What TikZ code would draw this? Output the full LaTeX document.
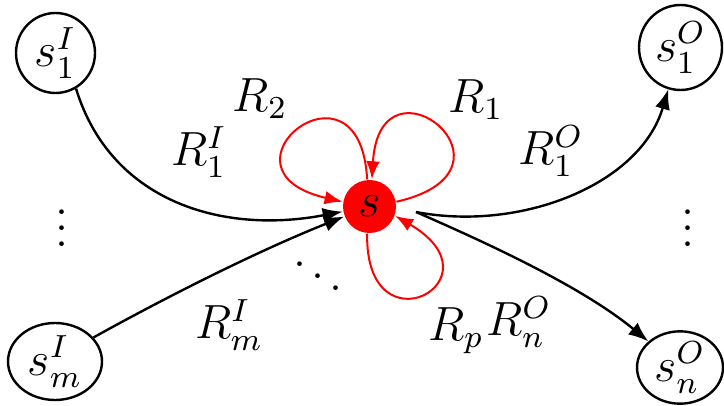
\documentclass[tikz,border=0pt,12pt]{standalone}
\usetikzlibrary{arrows.meta,shapes.geometric}
\begin{document}
\begin{tikzpicture}[x=0.25pt,y=-0.25pt,
  st/.style={draw,ellipse,inner sep=0pt,line width=0.6pt},
  edge/.style={line width=0.6pt,-{Latex[length=5pt,width=3.8pt]}},
  redloop/.style={red,line width=0.5pt,-{Latex[length=4.5pt,width=3.4pt]}},
  lab/.style={inner sep=0pt}]
\useasboundingbox (0,0) rectangle (724,405);
\node[st,minimum width=19.75pt,minimum height=20pt] (s1I) at (55.5,53) {$s_1^I$};
\node[st,minimum width=23.5pt,minimum height=19.25pt] (smI) at (55,361.5) {$s_m^I$};
\node[st,minimum width=20.75pt,minimum height=21.25pt] (s1O) at (680.5,47.5) {$s_1^O$};
\node[st,minimum width=21.5pt,minimum height=17.75pt] (snO) at (680,367.5) {$s_n^O$};
\node[circle,fill=red,inner sep=0pt,minimum size=13.25pt] (s) at (369.5,206.5) {$s$};
\coordinate (sout) at (416,212);
% incoming
\draw[edge] (s1I.-60) .. controls (110,200) and (220,235) .. (s);
\draw[edge] (smI.32) .. controls (170,295) and (260,250) .. (s);
% outgoing
\draw[edge] (sout) .. controls (520,232) and (640,185) .. (s1O);
\draw[edge] (sout) .. controls (480,240) and (580,285) .. (snO);
% loops
\draw[redloop] (s.95) .. controls (360,45) and (205,170) .. (s.170);
\draw[redloop] (s.10) .. controls (535,170) and (380,45) .. (s.85);
\draw[redloop] (s.-95) .. controls (365,355) and (505,280) .. (s.-20);
% labels
\node[lab] (l2) at (260,99) {$R_2$};
\node[lab] (l1) at (476,100) {$R_1$};
\node[lab] (l1I) at (199,152) {$R_1^I$};
\node[lab] (l1O) at (551,151) {$R_1^O$};
\node[lab] (lmI) at (229,325) {$R_m^I$};
\node[lab] (lp) at (456,331) {$R_p$};
\node[lab] (lnO) at (519,322) {$R_n^O$};
\node[lab] (vd1) at (62,216) {$\vdots$};
\node[lab] (vd2) at (688,216) {$\vdots$};
\node[lab] (dd) at (318,264) {$\ddots$};
\end{tikzpicture}
\end{document}
